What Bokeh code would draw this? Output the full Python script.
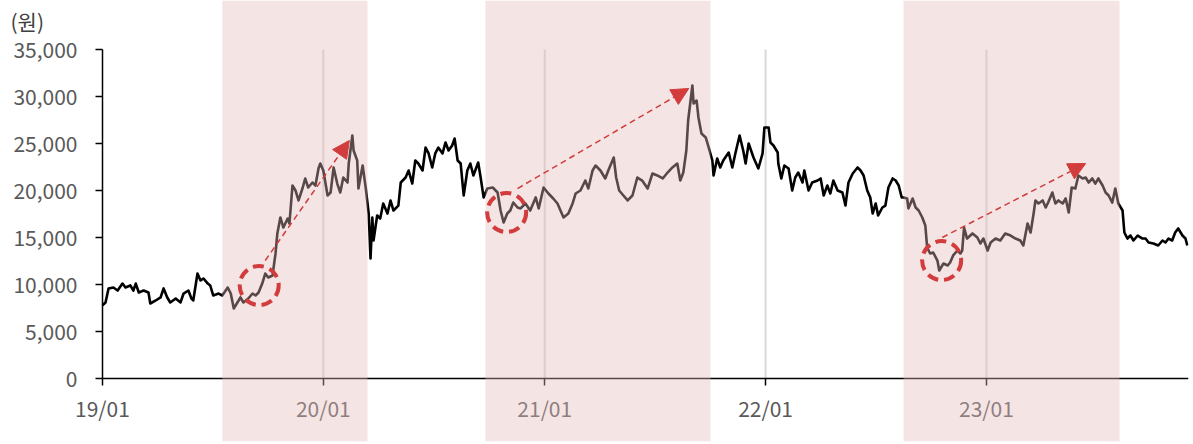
import pandas as pd
from bokeh.plotting import figure
from bokeh.models import (BoxAnnotation, Arrow, NormalHead, Label, FixedTicker,
                          DatetimeAxis, LinearAxis, NumeralTickFormatter,
                          DatetimeTickFormatter, Range1d, ColumnDataSource)
from bokeh.embed import file_html
from bokeh.resources import INLINE

# ---------------- data ----------------
BASE_DATE = "2019-01-01"
# trading-day positions, days since 2019-01-01
day_offset = [
    0, 5, 10, 18, 25, 33, 38, 46, 51, 55,
    60, 68, 76, 79, 88, 96, 101, 107, 112, 121,
    129, 134, 142, 147, 150, 157, 162, 167, 174, 178,
    183, 192, 198, 207, 212, 217, 223, 228, 233, 241,
    248, 253, 258, 264, 269, 274, 281, 286, 289, 294,
    299, 306, 309, 314, 319, 324, 331, 335, 340, 347,
    352, 357, 360, 365, 372, 377, 382, 388, 393, 398,
    405, 407, 413, 415, 421, 423, 430, 435, 440, 443,
    446, 448, 454, 459, 464, 471, 476, 481, 489, 493,
    501, 506, 512, 517, 522, 529, 534, 539, 545, 550,
    555, 562, 567, 572, 578, 582, 587, 592, 597, 603,
    608, 613, 621, 625, 630, 636, 645, 653, 658, 663,
    669, 674, 679, 686, 691, 699, 707, 716, 721, 729,
    737, 745, 752, 757, 762, 770, 777, 782, 790, 798,
    803, 810, 815, 823, 831, 836, 845, 849, 854, 861,
    868, 876, 884, 892, 901, 909, 917, 926, 934, 942,
    950, 955, 960, 965, 968, 975, 977, 982, 985, 990,
    997, 1002, 1008, 1010, 1016, 1021, 1026, 1035, 1041, 1046,
    1053, 1059, 1063, 1068, 1076, 1084, 1091, 1094, 1101, 1104,
    1109, 1116, 1117, 1122, 1127, 1134, 1140, 1145, 1150, 1157,
    1160, 1167, 1173, 1182, 1187, 1192, 1198, 1203, 1208, 1215,
    1223, 1228, 1233, 1240, 1248, 1253, 1258, 1264, 1269, 1273,
    1278, 1282, 1289, 1294, 1299, 1306, 1311, 1316, 1321, 1324,
    1330, 1332, 1339, 1344, 1349, 1355, 1360, 1363, 1368, 1373,
    1380, 1383, 1390, 1397, 1401, 1406, 1413, 1418, 1421, 1424,
    1429, 1438, 1446, 1451, 1456, 1463, 1468, 1476, 1484, 1492,
    1501, 1509, 1517, 1522, 1529, 1534, 1539, 1542, 1547, 1554,
    1559, 1563, 1570, 1575, 1580, 1587, 1592, 1597, 1602, 1608,
    1613, 1620, 1625, 1630, 1636, 1641, 1646, 1653, 1658, 1663,
    1669, 1674, 1679, 1686, 1689, 1694, 1699, 1704, 1711, 1719,
    1724, 1729, 1737, 1745, 1752, 1757, 1762, 1768, 1773, 1778,
    1785, 1790, 1793,
]
# share price (원)
price = [
    7800, 8090, 9580, 9680, 9360, 10100, 9680, 9900, 9360, 10100,
    9150, 9360, 9150, 7980, 8300, 8620, 9580, 8620, 8090, 8510,
    8090, 9040, 9360, 8510, 8300, 11170, 10430, 10640, 10100, 9900,
    8830, 9040, 8830, 9680, 9040, 7450, 8090, 8620, 8090, 8510,
    9040, 8830, 9150, 10100, 11170, 10750, 10960, 13300, 15430, 17130,
    16060, 17020, 16490, 20530, 20000, 18940, 20320, 21280, 20320, 20850,
    20530, 22340, 22870, 22130, 19470, 19790, 22450, 20740, 19790, 21380,
    20850, 22870, 25850, 24260, 23190, 20210, 22660, 20320, 17550, 12770,
    17130, 14680, 17340, 17020, 18620, 17550, 18940, 17870, 18400, 20850,
    21380, 22130, 20740, 23190, 22870, 22130, 24570, 23940, 22450, 23940,
    24570, 23940, 25110, 24260, 24790, 25530, 23190, 22870, 19470, 22130,
    22870, 21600, 22980, 21380, 19260, 20210, 20320, 19790, 17870, 16600,
    17550, 17870, 18720, 18190, 18090, 18620, 17870, 19260, 18090, 20320,
    19680, 19150, 18620, 17870, 17130, 17550, 18620, 19680, 20000, 21060,
    20210, 22130, 22660, 22130, 21280, 22130, 23510, 21380, 20000, 19470,
    18940, 19470, 21380, 21060, 20210, 21810, 21600, 21280, 21910, 22450,
    22870, 21060, 21910, 24260, 27450, 31170, 29260, 29570, 27770, 26060,
    25640, 24570, 23190, 21600, 23400, 22450, 23190, 24040, 22450, 23940,
    25850, 24260, 22870, 25000, 23510, 22340, 23940, 26700, 26700, 25110,
    24790, 24040, 22870, 21280, 22660, 22340, 20000, 21380, 21910, 20850,
    22130, 20000, 20850, 21060, 21280, 19470, 20530, 19680, 21060, 20000,
    19790, 18400, 20850, 21810, 22450, 22130, 21600, 20000, 19260, 17550,
    18620, 17340, 18190, 18400, 20320, 21280, 21060, 20530, 19260, 19260,
    19150, 18090, 19150, 18190, 17870, 17130, 16280, 13940, 13300, 13400,
    12550, 11490, 12230, 12020, 12340, 13090, 13620, 13300, 13620, 16060,
    14890, 15430, 15000, 14360, 14890, 13620, 14470, 14890, 14680, 15430,
    15210, 14890, 14680, 14150, 16490, 15530, 17550, 18940, 18620, 18940,
    18190, 18720, 19790, 18620, 18940, 18620, 19150, 17660, 20320, 20210,
    21600, 21280, 21380, 20850, 21280, 20740, 21280, 20530, 19790, 19470,
    18720, 20210, 18620, 17870, 15530, 14890, 15210, 14680, 15210, 14890,
    14890, 14470, 14360, 14150, 14680, 14470, 14890, 14680, 15530, 15960,
    15210, 14890, 14150,
]

tick_dates = ["2019-01-01", "2020-01-01", "2021-01-01", "2022-01-01", "2023-01-01"]
y_ticks = [0, 5000, 10000, 15000, 20000, 25000, 30000, 35000]
x_end_date = "2023-12-01"

# highlighted periods
shade_start = ["2019-07-18", "2020-09-25", "2022-08-17"]
shade_end = ["2020-03-14", "2021-10-02", "2023-08-09"]

# dashed circles at the lows
circle_dates = ["2019-09-17", "2020-10-30", "2022-10-19"]
circle_price = [9890, 17660, 12550]

# dashed arrows from low to high
arrow_start_dates = ["2019-09-27", "2020-11-17", "2022-10-20"]
arrow_start_price = [12550, 20210, 15000]
arrow_end_dates = ["2020-02-13", "2021-08-27", "2023-06-14"]
arrow_end_price = [25320, 30850, 22870]

# ---------------- layout (pixels) ----------------
W, H = 1193, 444
AXIS_LEFT_PX, AXIS_RIGHT_PX = 102, 1188     # x-axis extent on the page
ZERO_PX, TOP_TICK_PX, FRAME_BOTTOM_PX = 378, 49, 441


def ms(d):
    return pd.Timestamp(d).value / 1e6


x0, x1 = ms(tick_dates[0]), ms(x_end_date)
ms_per_px = (x1 - x0) / (AXIS_RIGHT_PX - AXIS_LEFT_PX)
val_per_px = (y_ticks[-1] - y_ticks[0]) / (ZERO_PX - TOP_TICK_PX)

dates = pd.Timestamp(BASE_DATE) + pd.to_timedelta(day_offset, unit="D")

FONT = "Noto Sans CJK KR"
RED = "#d23c3c"

p = figure(width=W, height=H,
           x_range=Range1d(x0 - AXIS_LEFT_PX * ms_per_px, x1),
           y_range=Range1d(-(FRAME_BOTTOM_PX - ZERO_PX) * val_per_px,
                           ZERO_PX * val_per_px),
           x_axis_type=None, y_axis_type=None,
           output_backend="svg", toolbar_location=None,
           min_border_left=0, min_border_right=W - AXIS_RIGHT_PX,
           min_border_top=0, min_border_bottom=H - FRAME_BOTTOM_PX)
p.outline_line_color = None
p.background_fill_color = "white"
p.border_fill_color = "white"

# y axis, anchored at the first date
yaxis = LinearAxis(ticker=FixedTicker(ticks=y_ticks),
                   formatter=NumeralTickFormatter(format="0,0"),
                   bounds=(y_ticks[0], y_ticks[-1]),
                   fixed_location=x0)
yaxis.major_tick_out = 7
yaxis.major_tick_in = 0
yaxis.minor_tick_out = 0
yaxis.minor_tick_in = 0
yaxis.axis_line_width = 1.5
yaxis.major_tick_line_width = 1.5
yaxis.major_label_text_font = FONT
yaxis.major_label_text_font_size = "21px"
yaxis.major_label_text_color = "#595959"
yaxis.major_label_standoff = 18
p.add_layout(yaxis, "left")

# x axis at y = 0
fmt = "%y/%m"
xaxis = DatetimeAxis(ticker=FixedTicker(ticks=[ms(d) for d in tick_dates]),
                     formatter=DatetimeTickFormatter(
                         microseconds=fmt, milliseconds=fmt, seconds=fmt,
                         minsec=fmt, minutes=fmt, hourmin=fmt, hours=fmt,
                         days=fmt, months=fmt, years=fmt),
                     bounds=(x0, x1),
                     fixed_location=y_ticks[0])
xaxis.major_tick_out = 7
xaxis.major_tick_in = 0
xaxis.minor_tick_out = 0
xaxis.minor_tick_in = 0
xaxis.axis_line_width = 1.5
xaxis.major_tick_line_width = 1.5
xaxis.major_label_text_font = FONT
xaxis.major_label_text_font_size = "21px"
xaxis.major_label_text_color = "#595959"
xaxis.major_label_standoff = 7
p.add_layout(xaxis, "below")

# vertical year gridlines, from 0 to top tick
grid_x = [ms(d) for d in tick_dates[1:]]
p.segment(x0=grid_x, y0=[y_ticks[0]] * len(grid_x),
          x1=grid_x, y1=[y_ticks[-1]] * len(grid_x),
          line_color="#d9d9d9", line_width=2, level="underlay")

# price line
p.line(x=[d.value / 1e6 for d in dates], y=price,
       line_color="black", line_width=2.6, line_join="round")

# shaded periods (tint everything below them)
for s, e in zip(shade_start, shade_end):
    p.add_layout(BoxAnnotation(left=ms(s), right=ms(e),
                               fill_color="#e2b9b9", fill_alpha=0.39,
                               line_color=None, level="annotation"))

# dashed circles
p.scatter(x=[ms(d) for d in circle_dates], y=circle_price, marker="circle",
          size=39, fill_color=None, line_color=RED, line_width=4,
          line_dash="11 6", level="overlay")

# dashed arrows
asrc = ColumnDataSource(dict(
    xs=[ms(d) for d in arrow_start_dates], ys=arrow_start_price,
    xe=[ms(d) for d in arrow_end_dates], ye=arrow_end_price))
p.add_layout(Arrow(x_start="xs", y_start="ys", x_end="xe", y_end="ye",
                   source=asrc, line_color=RED, line_width=1.5,
                   line_dash="6 4", level="overlay",
                   end=NormalHead(size=17, fill_color=RED, line_color=RED,
                                  line_width=1)))

# unit label
p.add_layout(Label(x=x0, y=37980, x_offset=-92,
                   text="(원)", text_font=FONT, text_font_size="21px",
                   text_color="#404040", text_baseline="middle",
                   text_align="left"))

open("out.html", "w").write(file_html(p, INLINE))
